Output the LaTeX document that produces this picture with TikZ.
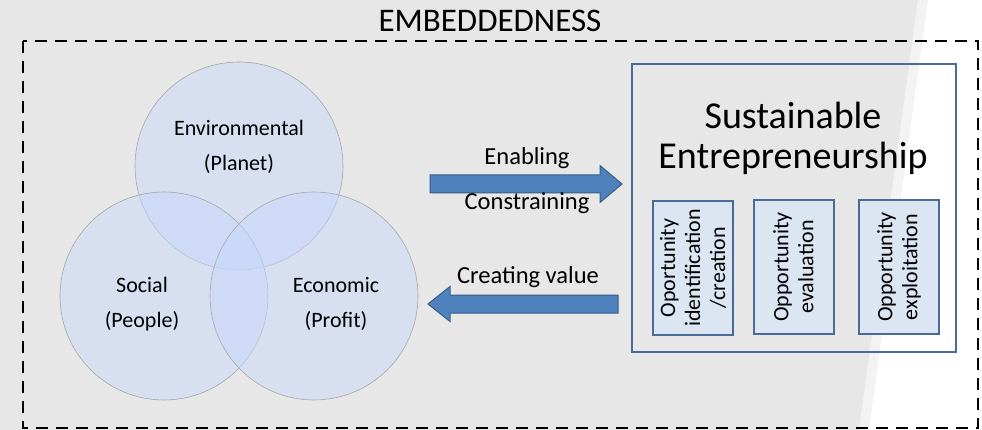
\documentclass[tikz,border=0pt]{standalone}
\usepackage{fontspec}
\setmainfont{Carlito}
\usetikzlibrary{calc}
\definecolor{bggray}{RGB}{231,231,231}
\definecolor{venn}{RGB}{200,216,252}
\definecolor{boxblue}{RGB}{74,106,154}
\definecolor{boxfill}{RGB}{220,230,242}
\definecolor{arrowfill}{RGB}{79,129,189}
\definecolor{arrowline}{RGB}{56,93,138}
\begin{document}
\begin{tikzpicture}[x=1pt, y=-1pt]
		\tikzstyle{venncircle} = [shape=circle, minimum size=208, draw=gray!70, line width=0.6pt, fill=venn, fill opacity=0.5]
		\tikzstyle{venntext} = [align=center, font=\fontsize{22}{35}\selectfont]
		\tikzstyle{phase} = [rotate=90, minimum width=134, minimum height=80, draw=boxblue, line width=2pt, fill=boxfill, align=center, font=\fontsize{22}{25}\selectfont]
		\tikzstyle{flowtext} = [font=\fontsize{24.5}{28}\selectfont]
		\tikzstyle{blockarrow} = [fill=arrowfill, draw=arrowline, line width=1pt]
		% background
		\fill[bggray] (0,0) rectangle (982,430);
		\fill[bggray!50!white] (918,0) -- (982,0) -- (982,430) -- (859,430) -- cycle;
		\fill[white] (928,0) -- (982,0) -- (982,430) -- (869,430) -- cycle;
		\useasboundingbox (0,0) rectangle (982,430);
		% embeddedness frame
		\draw [line width=2pt, dash pattern=on 12pt off 8pt] (23,41) rectangle (978,428);
		\node (emb) [anchor=base, font=\fontsize{33}{36}\selectfont] at (490,32) {EMBEDDEDNESS};
		% triple bottom line
		\node (env) [venncircle] at (239,166) {};
		\node (soc) [venncircle] at (164,296) {};
		\node (eco) [venncircle] at (314,296) {};
		\node (envtxt) [venntext] at (239,147) {Environmental\\(Planet)};
		\node (soctxt) [venntext] at (142,304) {Social\\(People)};
		\node (ecotxt) [venntext] at (336,304) {Economic\\(Profit)};
		% sustainable entrepreneurship
		\node (se) [draw=boxblue, line width=2pt, minimum width=324, minimum height=288] at (794,208) {};
		\node (setxt) [align=center, font=\fontsize{38}{40}\selectfont] at (793,138) {Sustainable\\Entrepreneurship};
		\node (ident) [phase] at (693,268) {Oportunity\\identification\\/creation};
		\node (eval) [phase] at (793.5,267) {Opportunity\\evaluation};
		\node (expl) [phase] at (899,267) {Opportunity\\exploitation};
		% arrows
		\coordinate (enfrom) at (430,184);
		\coordinate (ento) at (622,184);
		\coordinate (crfrom) at (618,304);
		\coordinate (crto) at (428,304);
		\draw [blockarrow] ($(enfrom)+(0,-9)$) -- ($(ento)+(-22,-9)$) -- ($(ento)+(-22,-18.5)$) -- (ento)
			-- ($(ento)+(-22,18.5)$) -- ($(ento)+(-22,9)$) -- ($(enfrom)+(0,9)$) -- cycle;
		\draw [blockarrow] ($(crfrom)+(0,-9)$) -- ($(crto)+(22,-9)$) -- ($(crto)+(22,-17.5)$) -- (crto)
			-- ($(crto)+(22,17.5)$) -- ($(crto)+(22,9)$) -- ($(crfrom)+(0,9)$) -- cycle;
		\node (enab) [flowtext] at (527,158) {Enabling};
		\node (cons) [flowtext] at (527,203) {Constraining};
		\node (crea) [flowtext] at (528,277) {Creating value};
	\end{tikzpicture}
\end{document}
